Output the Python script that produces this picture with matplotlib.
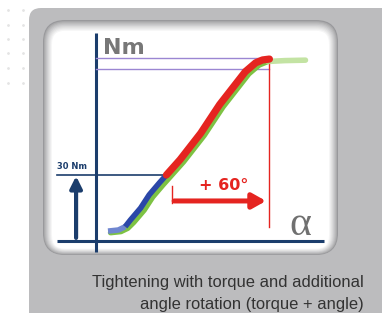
import matplotlib.pyplot as plt
from matplotlib.patches import FancyBboxPatch
import numpy as np

# ===========================================================
# Data (angle in degrees, torque in Nm)
# ===========================================================
blue_angle = [7, 13, 17, 20, 26, 31, 37, 41]
blue_torque = [4.5, 5, 6.5, 9.5, 15, 21, 26.5, 30]

red_angle = [41, 49, 61, 72, 81, 87, 93, 97, 101]
red_torque = [30, 37, 49, 62, 71, 77, 81, 82.3, 82.7]

green_angle = [8.5, 14.5, 18.5, 22, 28, 33, 39, 43, 51, 63, 74, 83, 89, 95, 100, 110, 122]
green_torque = [3.8, 4.3, 5.8, 8.5, 14, 20, 25.5, 29, 36, 48, 61, 70, 76, 80, 81.6, 82, 82.2]

snug_torque = 30          # Nm
extra_angle = 60          # degrees
final_angle = 101
final_torque = [83.4, 78.4]   # two purple limit lines

caption = ["Tightening with torque and additional", "angle rotation (torque + angle)"]

# ===========================================================
# Figure + background panel (pixel coordinates)
# ===========================================================
W, H = 382, 313
fig = plt.figure(figsize=(W / 100, H / 100), dpi=100)
bg = fig.add_axes([0, 0, 1, 1])
bg.set_xlim(0, W)
bg.set_ylim(H, 0)
bg.axis("off")

# dotted pattern top left
for dx in [8, 23]:
    for dy in [10, 25, 39, 53, 68, 83]:
        bg.plot(dx, dy, "o", ms=2, color="#e4e4e4", mec="none")

# grey panel
bg.add_patch(FancyBboxPatch((29, 8), 400, 400, boxstyle="round,pad=0,rounding_size=12",
                            fc="#bcbcbe", ec="none"))

# inner white window with soft inner shadow
grey = np.array([0.60, 0.60, 0.61])
white = np.array([1.0, 1.0, 1.0])
steps = 10
for i in range(steps):
    t = (i / (steps - 1)) ** 0.8
    col = grey * (1 - t) + white * t
    bg.add_patch(FancyBboxPatch((43 + i, 20 + i * 1.2), 295 - 2 * i, 235 - i * 1.9,
                                boxstyle="round,pad=0,rounding_size=%f" % (22 - i),
                                fc=col, ec="none"))

cap_font = ["Liberation Sans Narrow", "Liberation Sans", "DejaVu Sans"]
t1 = bg.text(364, 283, caption[0], ha="right", va="center", fontsize=12,
             color="#333333", family=cap_font)
t2 = bg.text(364, 304, caption[1], ha="right", va="center", fontsize=12,
             color="#333333", family=cap_font)
# shrink caption so the first line is about 270 px wide
r = fig.canvas.get_renderer()
w1 = t1.get_window_extent(r).width
fs = 12 * 270 / w1
t1.set_fontsize(fs)
t2.set_fontsize(fs)

# ===========================================================
# Chart axes (data coordinates)
# ===========================================================
px_deg = 1.717
px_nm = 2.2
x0, y0 = 96, 241
ax = fig.add_axes([0, 0, 1, 1])
ax.set_xlim(-x0 / px_deg, (W - x0) / px_deg)
ax.set_ylim((y0 - H) / px_nm, y0 / px_nm)
ax.axis("off")
ax.patch.set_alpha(0)

navy = "#1b3d6c"
red = "#e52420"
purple = "#9b86d2"

# axes lines
ax.plot([0, 0], [-5, 94.5], color=navy, lw=2.2, solid_capstyle="butt")
ax.plot([-23, 133], [0, 0], color=navy, lw=2.2, solid_capstyle="butt")

# reference lines
for tq in final_torque:
    ax.plot([0, final_angle], [tq, tq], color=purple, lw=1.0)
ax.plot([-23, blue_angle[-1]], [snug_torque, snug_torque], color=navy, lw=1.2)
ax.plot([final_angle, final_angle], [6.4, red_torque[-1]], color=red, lw=1.0)
ax.plot([44.3, 44.3], [17.3, 25], color=red, lw=1.0)

# curves
ax.plot(green_angle[:-2], green_torque[:-2], color="#7dc243", lw=4, solid_capstyle="round")
ax.plot(green_angle[-3:], green_torque[-3:], color="#b5dc8c", lw=4, alpha=0.8,
        solid_capstyle="round")
ax.plot(blue_angle[:3], blue_torque[:3], color="#6f86d0", lw=4, solid_capstyle="butt")
ax.plot(blue_angle[2:], blue_torque[2:], color="#2b47a8", lw=4, solid_capstyle="butt")
ax.plot(red_angle, red_torque, color=red, lw=5.2, solid_capstyle="round")

# arrows
ax.annotate("", xy=(99, 18.2), xytext=(45.5, 18.2),
            arrowprops=dict(arrowstyle="-|>,head_length=0.8,head_width=0.45",
                            color=red, lw=3.6, shrinkA=0, shrinkB=0))
ax.annotate("", xy=(-11.6, 29.5), xytext=(-11.6, 1.4),
            arrowprops=dict(arrowstyle="-|>,head_length=0.7,head_width=0.35",
                            color=navy, lw=3, shrinkA=0, shrinkB=0))

# labels
ax.text(74.5, 25, "+ %d°" % extra_angle, ha="center", va="center", fontsize=11.5,
        fontweight="bold", color=red)
ax.text(-22.5, 34, "%d Nm" % snug_torque, ha="left", va="center", fontsize=6,
        fontweight="bold", color=navy)
ax.text(4, 87.5, "Nm", ha="left", va="center", fontsize=16, fontweight="bold",
        color="#777777")
ax.text(119, 7.5, "α", ha="center", va="center", fontsize=30, color="#707070",
        family=["Liberation Serif", "DejaVu Serif"])

fig.savefig("out.png", dpi=100)
